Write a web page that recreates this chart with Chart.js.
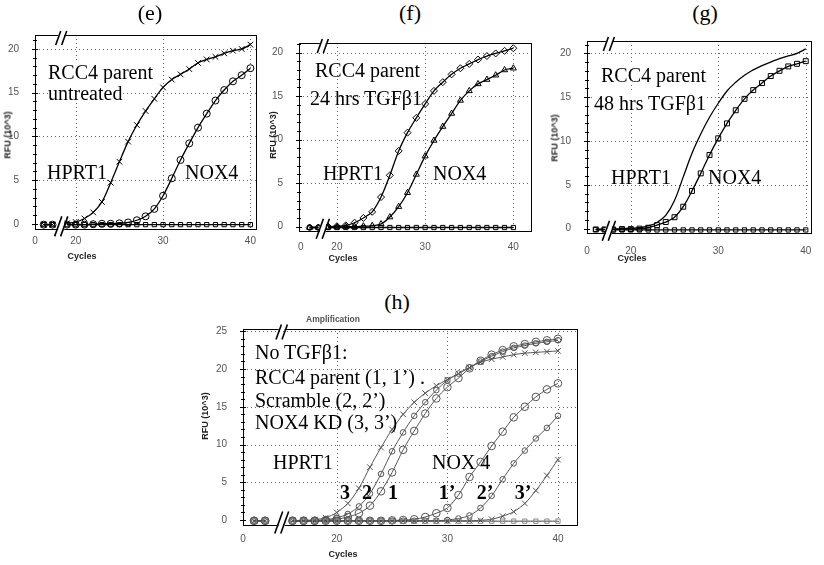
<!DOCTYPE html>
<html><head><meta charset="utf-8">
<script src="https://cdn.jsdelivr.net/npm/chart.js@4.4.0/dist/chart.umd.min.js"></script>
<style>
html,body{margin:0;padding:0;background:#fff;}
body{width:824px;height:565px;position:relative;overflow:hidden;}
canvas{position:absolute;}
.t{position:absolute;white-space:nowrap;line-height:1;color:#000;font-family:"Liberation Serif","Times New Roman",serif;font-size:20px;transform:translate(0,-50%);}
.wb{background:#fff;}
.c{transform:translate(-50%,-50%);}
.b{font-weight:bold;}
.ttl{font-size:22px;}
.yt{position:absolute;white-space:nowrap;line-height:1;font-family:"Liberation Sans",Arial,sans-serif;font-weight:bold;font-size:9px;color:#222;transform:translate(-50%,-50%) rotate(-90deg);}
.xt{position:absolute;white-space:nowrap;line-height:1;font-family:"Liberation Sans",Arial,sans-serif;font-weight:bold;font-size:9px;color:#222;transform:translate(-50%,-50%);}
.amp{position:absolute;white-space:nowrap;line-height:1;font-family:"Liberation Sans",Arial,sans-serif;font-weight:bold;font-size:8.5px;color:#555;transform:translate(-50%,-50%);}
</style></head><body>

<div class="t c ttl" style="left:150px;top:13px">(e)</div>
<div class="t c ttl" style="left:410px;top:13px">(f)</div>
<div class="t c ttl" style="left:705px;top:13px">(g)</div>
<div class="t c ttl" style="left:397px;top:302px">(h)</div>
<div class="amp" style="left:333px;top:319px">Amplification</div>

<div class="yt" style="left:8px;top:135px">RFU (10^3)</div>
<div class="yt" style="left:273px;top:135px">RFU (10^3)</div>
<div class="yt" style="left:555px;top:138px">RFU (10^3)</div>
<div class="yt" style="left:205px;top:416px">RFU (10^3)</div>
<div class="xt" style="left:82px;top:256px">Cycles</div>
<div class="xt" style="left:343px;top:258px">Cycles</div>
<div class="xt" style="left:632px;top:258px">Cycles</div>
<div class="xt" style="left:343px;top:554px">Cycles</div>

<div class="t wb" style="left:48px;top:72px">RCC4 parent</div>
<div class="t wb" style="left:48px;top:93px">untreated</div>
<div class="t" style="left:47px;top:172px">HPRT1</div>
<div class="t" style="left:185px;top:172px">NOX4</div>

<div class="t" style="left:315px;top:70px">RCC4 parent</div>
<div class="t" style="left:310px;top:98px">24 hrs TGFβ1</div>
<div class="t" style="left:323px;top:173px">HPRT1</div>
<div class="t" style="left:433px;top:173px">NOX4</div>

<div class="t wb" style="left:601px;top:75px">RCC4 parent</div>
<div class="t wb" style="left:594px;top:103px">48 hrs TGFβ1</div>
<div class="t" style="left:611px;top:177px">HPRT1</div>
<div class="t" style="left:708px;top:177px">NOX4</div>

<div class="t" style="left:255px;top:352px">No TGFβ1:</div>
<div class="t" style="left:255px;top:377px">RCC4 parent (1, 1’) .</div>
<div class="t" style="left:255px;top:400px">Scramble (2, 2’)</div>
<div class="t" style="left:255px;top:422px">NOX4 KD (3, 3’)</div>
<div class="t" style="left:273px;top:462px">HPRT1</div>
<div class="t" style="left:432px;top:462px">NOX 4</div>
<div class="t c b" style="left:345px;top:492px">3</div>
<div class="t c b" style="left:367px;top:492px">2</div>
<div class="t c b" style="left:393px;top:492px">1</div>
<div class="t c b" style="left:447px;top:492px">1’</div>
<div class="t c b" style="left:485px;top:492px">2’</div>
<div class="t c b" style="left:523px;top:492px">3’</div>

<script>
// ---------- DATA ----------
const xTickCycles = [0, 20, 30, 40];
const xTickLabels = ['0', '20', '30', '40'];
const yTicksEFG = [0, 5, 10, 15, 20];
const yTicksH = [0, 5, 10, 15, 20, 25];
const leftCycles = [1, 2];

// (e) RCC4 parent untreated
const cyclesE = [19,20,21,22,23,24,25,26,27,28,29,30,31,32,33,34,35,36,37,38,39,40];
const hprtE = [0.05,0.2,0.6,1.3,2.5,4.7,7.1,9.4,11.3,12.9,14.3,15.6,16.5,17.1,17.7,18.4,18.8,19.1,19.5,19.8,20.0,20.5];
const noxE  = [-0.1,-0.1,-0.1,-0.05,0,0,0.05,0.15,0.4,0.85,1.7,3.2,5.2,7.3,9.2,11.0,12.6,14.1,15.3,16.3,17.0,17.8];
const ntcE  = [-0.1,-0.1,-0.1,-0.1,-0.1,-0.1,-0.1,-0.1,-0.1,-0.1,-0.1,-0.1,-0.1,-0.1,-0.1,-0.1,-0.1,-0.1,-0.1,-0.1,-0.1,-0.1];
const leftE = [-0.1, -0.1];

// (f) RCC4 parent 24 hrs TGFb1
const cyclesF = [19,20,21,22,23,24,25,26,27,28,29,30,31,32,33,34,35,36,37,38,39,40];
const hprtF = [0,0.05,0.15,0.45,1.0,1.7,3.4,5.9,8.7,10.8,12.5,14.1,15.6,16.6,17.5,18.2,18.7,19.2,19.6,19.9,20.2,20.5];
const noxF  = [-0.05,-0.05,0,0,0.05,0.1,0.3,1.1,2.3,3.9,6.0,8.1,9.9,11.5,13.0,14.5,15.6,16.4,16.9,17.4,18.0,18.2];
const ntcF  = [-0.1,-0.1,-0.1,-0.1,-0.1,-0.1,-0.1,-0.1,-0.1,-0.1,-0.1,-0.1,-0.1,-0.1,-0.1,-0.1,-0.1,-0.1,-0.1,-0.1,-0.1,-0.1];
const leftF = [-0.1, -0.1];

// (g) RCC4 parent 48 hrs TGFb1
const cyclesG = [18,19,20,21,22,23,24,25,26,27,28,29,30,31,32,33,34,35,36,37,38,39,40];
const hprtG = [-0.05,0,0.05,0.1,0.3,0.7,1.5,3.2,5.9,8.6,10.8,12.7,14.3,15.7,16.7,17.5,18.1,18.6,19.0,19.4,19.7,20.0,20.5];
const noxG  = [-0.1,-0.05,-0.05,0,0.1,0.4,0.75,1.3,2.5,4.3,6.3,8.4,10.3,12.0,13.5,14.8,15.8,16.6,17.4,18.0,18.5,18.8,19.1];
const ntcG  = [-0.15,-0.15,-0.15,-0.15,-0.15,-0.15,-0.15,-0.15,-0.15,-0.15,-0.15,-0.15,-0.15,-0.15,-0.15,-0.15,-0.15,-0.15,-0.15,-0.15,-0.15,-0.15,-0.15];
const leftG = [-0.1, -0.1];

// (h) No TGFb1: parent (1,1'), scramble (2,2'), NOX4 KD (3,3')
const cyclesH = [16,17,18,19,20,21,22,23,24,25,26,27,28,29,30,31,32,33,34,35,36,37,38,39,40];
const hprt1H = [-0.1,-0.1,-0.1,0,0.1,0.4,0.9,1.9,3.8,6.3,9.3,11.8,14.1,16.1,17.6,18.8,20.1,21.1,21.9,22.5,23.0,23.3,23.6,23.8,24.0];
const hprt2H = [-0.1,-0.1,-0.05,0.05,0.3,0.8,1.8,3.5,6.1,9.1,11.6,13.8,15.6,17.2,18.5,19.4,20.2,21.0,21.7,22.3,22.8,23.1,23.4,23.6,23.8];
const hprt3H = [-0.1,-0.05,0.05,0.3,1.0,2.2,4.2,7.0,9.6,12.0,14.0,15.6,16.8,17.8,18.6,19.4,20.2,20.9,21.3,21.6,21.9,22.1,22.2,22.3,22.4];
const nox1H  = [-0.1,-0.1,-0.1,-0.1,-0.1,-0.1,-0.1,-0.1,-0.1,-0.05,0,0.1,0.4,0.9,1.6,3.3,5.7,7.7,9.8,11.7,13.6,15.0,16.3,17.3,18.1];
const nox2H  = [-0.1,-0.1,-0.1,-0.1,-0.1,-0.1,-0.1,-0.1,-0.1,-0.1,-0.1,-0.1,-0.1,-0.1,0,0.2,0.6,1.6,3.2,5.4,7.5,9.2,10.8,12.2,13.8];
const nox3H  = [-0.1,-0.1,-0.1,-0.1,-0.1,-0.1,-0.1,-0.1,-0.1,-0.1,-0.1,-0.1,-0.1,-0.1,-0.1,-0.1,-0.1,-0.05,0.1,0.5,1.1,2.2,3.9,5.9,8.0];
const ntcH   = [-0.15,-0.15,-0.15,-0.15,-0.15,-0.15,-0.15,-0.15,-0.15,-0.15,-0.15,-0.15,-0.15,-0.15,-0.15,-0.15,-0.15,-0.15,-0.15,-0.15,-0.15,-0.15,-0.15,-0.15,-0.15];
const leftH = [-0.1, -0.1];

// ---------- DRAWING ----------
function drawBreak(ctx, cx, cy, h, gapTop, gapBot) {
  ctx.save();
  ctx.fillStyle = '#fff';
  ctx.fillRect(cx - 3, gapTop, 6, gapBot - gapTop);
  ctx.strokeStyle = '#000';
  ctx.lineWidth = 1.6;
  const s = h * 0.18;
  [-3, 3].forEach(o => {
    ctx.beginPath();
    ctx.moveTo(cx + o - s, cy + h / 2);
    ctx.lineTo(cx + o + s, cy - h / 2);
    ctx.stroke();
  });
  ctx.restore();
}

const framePlugin = {
  id: 'frame',
  beforeDatasetsDraw(chart) {
    const {ctx, chartArea: a, scales: {x, y}} = chart;
    ctx.save();
    ctx.strokeStyle = '#666';
    ctx.lineWidth = 1;
    ctx.setLineDash([1, 3]);
    x.ticks.forEach(t => {
      if (t.value === 0) return;
      const px = Math.round(x.getPixelForValue(t.value)) + 0.5;
      ctx.beginPath(); ctx.moveTo(px, a.top); ctx.lineTo(px, a.bottom); ctx.stroke();
    });
    y.ticks.forEach(t => {
      if (t.value === 0) return;
      const py = Math.round(y.getPixelForValue(t.value)) + 0.5;
      ctx.beginPath(); ctx.moveTo(a.left, py); ctx.lineTo(a.right, py); ctx.stroke();
    });
    ctx.restore();
  },
  afterDraw(chart) {
    const o = chart.options.plugins.frame;
    const {ctx, chartArea: a, scales: {x, y}} = chart;
    ctx.save();
    ctx.strokeStyle = '#000';
    ctx.lineWidth = 1;
    ctx.strokeRect(Math.round(a.left) + 0.5, Math.round(a.top) + 0.5, Math.round(a.right - a.left), Math.round(a.bottom - a.top));
    for (let v = Math.ceil(y.min); v <= y.max; v++) {
      const py = Math.round(y.getPixelForValue(v)) + 0.5;
      const L = v % 5 === 0 ? 3 : 2;
      ctx.beginPath(); ctx.moveTo(a.left - L, py); ctx.lineTo(a.left + L, py); ctx.stroke();
    }
    ctx.restore();
    const bx = x.getPixelForValue(o.brk);
    drawBreak(ctx, bx, a.top + 3, o.topH, a.top - 2, a.top + 2);
    const y0 = y.getPixelForValue(0);
    drawBreak(ctx, bx, (y0 + a.bottom) / 2, o.botH, y0 - 4, a.bottom + 2);
  }
};

function series(p, cycles, values, left, style) {
  const map = c => c < 10 ? c : c - p.G;
  const data = left.map((v, i) => ({x: map(leftCycles[i]), y: v}));
  data.push({x: p.brk, y: null});
  cycles.forEach((c, i) => data.push({x: map(c), y: values[i]}));
  return Object.assign({
    data,
    borderColor: p.line,
    borderWidth: p.lw,
    pointBorderColor: p.line,
    pointBackgroundColor: 'rgba(255,255,255,0)',
    pointBorderWidth: 1,
    pointRadius: 3.5,
    tension: 0.3,
    spanGaps: false
  }, style);
}

function makePanel(p) {
  const yW = 40, xH = 30, pt = 10, pr = 10;
  const w = (p.R - p.L) + yW + pr, h = (p.B - p.T) + pt + xH;
  const cv = document.createElement('canvas');
  cv.width = w; cv.height = h;
  cv.style.left = (p.L - yW) + 'px';
  cv.style.top = (p.T - pt) + 'px';
  cv.style.width = w + 'px'; cv.style.height = h + 'px';
  document.body.insertBefore(cv, document.body.firstChild);
  const map = c => c < 10 ? c : c - p.G;
  new Chart(cv, {
    type: 'line',
    data: {datasets: p.datasets},
    options: {
      responsive: false, animation: false, devicePixelRatio: 1,
      layout: {padding: {top: pt, right: pr, left: 0, bottom: 0}},
      plugins: {legend: {display: false}, tooltip: {enabled: false}, frame: {brk: p.brk, topH: p.topH, botH: p.botH}},
      scales: {
        x: {
          type: 'linear', min: p.xmin, max: p.xmax,
          afterFit(s) { s.height = xH; s.paddingLeft = 0; s.paddingRight = 0; },
          afterBuildTicks(s) { s.ticks = xTickCycles.map(c => ({value: map(c)})); },
          ticks: {callback: (v, i) => xTickLabels[i], font: {family: 'Liberation Sans', size: 10}, color: '#555', padding: p.xpad, maxRotation: 0, autoSkip: false},
          grid: {display: false},
          border: {color: '#000', width: 1}
        },
        y: {
          type: 'linear', min: p.ymin, max: p.ymax,
          afterFit(s) { s.width = yW; s.paddingTop = 0; s.paddingBottom = 0; },
          afterBuildTicks(s) { s.ticks = p.yTicks.map(v => ({value: v})); },
          ticks: {font: {family: 'Liberation Sans', size: 10}, color: '#555', padding: 8},
          grid: {display: false},
          border: {color: '#000', width: 1}
        }
      }
    },
    plugins: [framePlugin]
  });
}

const pE = {L: 35, T: 35, R: 256, B: 229, ymin: -0.6, ymax: 21.6, G: 15.34, xmin: 0, xmax: 25.3, brk: 3.0, xpad: -2, topH: 14, botH: 20, yTicks: yTicksEFG, line: '#000', lw: 1.3};
pE.datasets = [
  series(pE, cyclesE, ntcE, leftE, {pointStyle: 'rect', pointRadius: 3}),
  series(pE, cyclesE, noxE, leftE, {pointStyle: 'circle'}),
  series(pE, cyclesE, hprtE, leftE, {pointStyle: 'crossRot', pointRadius: 4})
];
const pF = {L: 299, T: 43, R: 531, B: 231, ymin: -0.5, ymax: 21.1, G: 15.9, xmin: -0.2, xmax: 26.1, brk: 2.5, xpad: 2, topH: 14, botH: 20, yTicks: yTicksEFG, line: '#000', lw: 1.3};
pF.datasets = [
  series(pF, cyclesF, ntcF, leftF, {pointStyle: 'rect', pointRadius: 3}),
  series(pF, cyclesF, noxF, leftF, {pointStyle: 'triangle'}),
  series(pF, cyclesF, hprtF, leftF, {pointStyle: 'rectRot', pointRadius: 3.5})
];
const pG = {L: 587, T: 41, R: 811, B: 233, ymin: -0.5, ymax: 21.4, G: 15.0, xmin: 0, xmax: 25.6, brk: 2.5, xpad: 4, topH: 14, botH: 20, yTicks: yTicksEFG, line: '#000', lw: 1.3};
pG.datasets = [
  series(pG, cyclesG, ntcG, leftG, {pointStyle: 'rect', pointRadius: 3}),
  series(pG, cyclesG, noxG, leftG, {pointStyle: 'rect', pointRadius: 3.5}),
  series(pG, cyclesG, hprtG, leftG, {pointRadius: 0, tension: 0.4})
];
const pH = {L: 243, T: 329, R: 577, B: 525, ymin: -0.66, ymax: 25.3, G: 11.52, xmin: 0, xmax: 30.2, brk: 3.5, xpad: 0, topH: 15, botH: 22, yTicks: yTicksH, line: '#555', lw: 1};
pH.datasets = [
  series(pH, cyclesH, ntcH, leftH, {pointStyle: 'rect', pointRadius: 3, pointBorderColor: '#888', borderColor: '#444'}),
  series(pH, cyclesH, nox3H, leftH, {pointStyle: 'crossRot', pointRadius: 4}),
  series(pH, cyclesH, nox2H, leftH, {pointStyle: 'circle', pointRadius: 2.8}),
  series(pH, cyclesH, nox1H, leftH, {pointStyle: 'circle', pointRadius: 3.8}),
  series(pH, cyclesH, hprt3H, leftH, {pointStyle: 'crossRot', pointRadius: 4}),
  series(pH, cyclesH, hprt2H, leftH, {pointStyle: 'circle', pointRadius: 2.8}),
  series(pH, cyclesH, hprt1H, leftH, {pointStyle: 'circle', pointRadius: 3.8})
];
[pE, pF, pG, pH].forEach(makePanel);
</script>
</body></html>
